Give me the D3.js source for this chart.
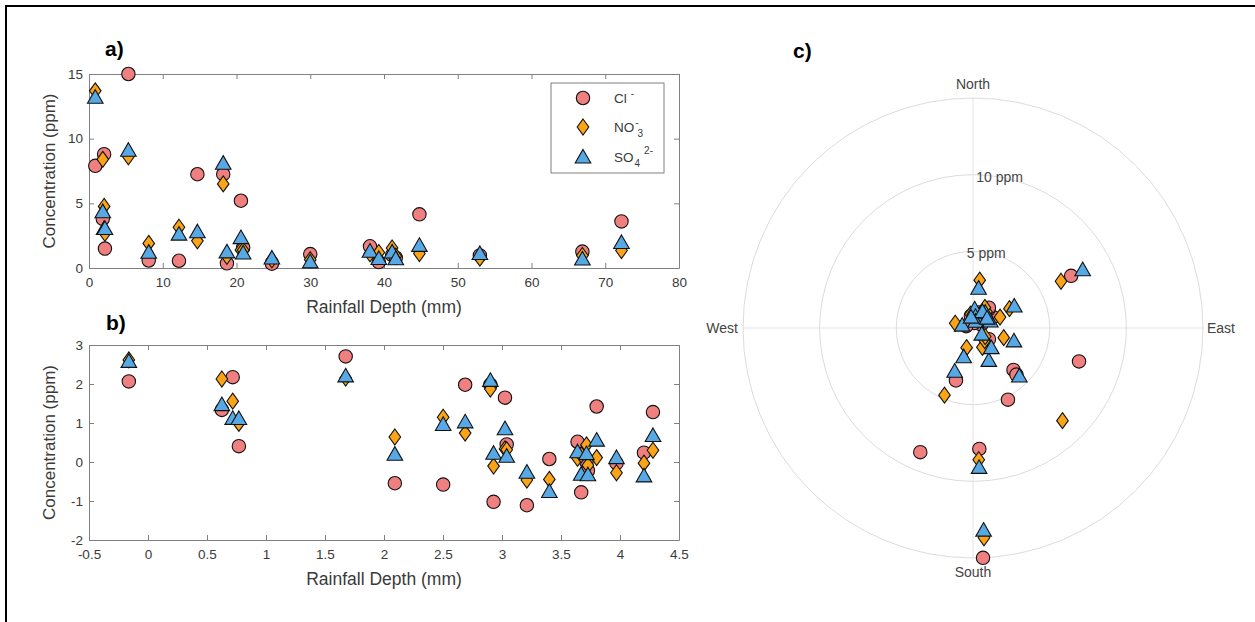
<!DOCTYPE html>
<html>
<head>
<meta charset="utf-8">
<script src="https://cdn.jsdelivr.net/npm/d3@7"></script>
<style>
body { margin: 0; background: #fff; }
svg { font-family: "Liberation Sans", Arial, sans-serif; }
</style>
</head>
<body>
<svg id="drawing_region"></svg>
<script>
// one entry per rainfall event
const rainfall = [0.85, 1.87, 2.05, 2.16, 5.34, 8.1, 12.2, 14.7, 18.2, 18.7, 20.6, 20.9, 24.8, 30.0, 38.1, 39.3, 41.1, 41.6, 44.8, 53.0, 66.9, 72.2];
const chloride = [7.9, 3.8, 8.8, 1.5, 15.0, 0.58, 0.56, 7.25, 7.25, 0.36, 5.2, 1.57, 0.33, 1.08, 1.68, 0.46, 1.0, 0.8, 4.15, 0.97, 1.27, 3.6];
const nitrate  = [13.7, 8.4, 4.76, 2.69, 8.6, 1.9, 3.15, 2.1, 6.5, 0.9, 1.4, 1.37, 0.63, 0.64, 1.1, 1.2, 1.55, 0.92, 1.12, 0.76, 0.97, 1.35];
const sulfate  = [13.2, 4.35, 3.06, 3.05, 9.1, 1.22, 2.62, 2.8, 8.1, 1.25, 2.35, 1.16, 0.77, 0.47, 1.3, 0.73, 1.24, 0.72, 1.75, 1.12, 0.70, 1.97];
const windDir  = [177, 136, 203, 62, 177.5, 68, 8, 107.5, 62, 5, 154, 40, 12, 20, 38, 285, 30, 350, 137, 55, 125, 198]; // degrees from north

const xTicksA = [0, 10, 20, 30, 40, 50, 60, 70, 80];
const yTicksA = [0, 5, 10, 15];
const xTicksB = [-0.5, 0, 0.5, 1, 1.5, 2, 2.5, 3, 3.5, 4, 4.5];
const yTicksB = [-2, -1, 0, 1, 2, 3];
const rings = [5, 10, 15];
const ringLabels = ['5 ppm', '10 ppm'];
const compass = ['North', 'East', 'South', 'West'];

const species = [
  { name: 'cl',  values: chloride },
  { name: 'no3', values: nitrate },
  { name: 'so4', values: sulfate }
];

const style = {
  cl:  { fill: '#f08080', shape: 'circle' },
  no3: { fill: '#fba418', shape: 'diamond' },
  so4: { fill: '#57a9e6', shape: 'triangle' }
};

const shapes = {
  circle:   { draw(ctx) { ctx.moveTo(6.7, 0); ctx.arc(0, 0, 6.7, 0, 2 * Math.PI); } },
  diamond:  { draw(ctx) { ctx.moveTo(0, -8); ctx.lineTo(5.8, 0); ctx.lineTo(0, 8); ctx.lineTo(-5.8, 0); ctx.closePath(); } },
  triangle: { draw(ctx) { ctx.moveTo(0, -7.6); ctx.lineTo(7.8, 6); ctx.lineTo(-7.8, 6); ctx.closePath(); } }
};

const svg = d3.select('#drawing_region')
    .attr('width', 1255)
    .attr('height', 622);

// figure frame (top and left edges)
svg.append('path')
    .attr('d', 'M6,622 L6,6 L1255,6')
    .attr('fill', 'none')
    .attr('stroke', '#000')
    .attr('stroke-width', 2);

function marker(sel, key) {
  sel.attr('d', d3.symbol().type(shapes[style[key].shape])())
      .attr('fill', style[key].fill)
      .attr('stroke', '#111')
      .attr('stroke-width', 1.1);
}

class ScatterPlot {
  constructor(config, data) {
    this.config = config;
    this.data = data;
    this.init();
  }
  init() {
    let self = this;
    let c = self.config;
    self.chart = svg.append('g')
        .attr('transform', `translate(${c.left}, ${c.top})`);
    self.inner_width = c.width;
    self.inner_height = c.height;
    self.xscale = d3.scaleLinear().domain(c.xdomain).range([0, self.inner_width]);
    self.yscale = d3.scaleLinear().domain(c.ydomain).range([self.inner_height, 0]);
  }
  update() {
    this.render();
  }
  render() {
    let self = this;
    let c = self.config;
    const fmt = d => String(d);

    const xb = self.chart.append('g')
        .attr('transform', `translate(0, ${self.inner_height})`)
        .call(d3.axisBottom(self.xscale).tickValues(c.xticks).tickFormat(fmt)
            .tickSizeInner(-5).tickSizeOuter(0).tickPadding(9.5));
    const xt = self.chart.append('g')
        .call(d3.axisTop(self.xscale).tickValues(c.xticks).tickFormat('')
            .tickSizeInner(-5).tickSizeOuter(0));
    const yl = self.chart.append('g')
        .call(d3.axisLeft(self.yscale).tickValues(c.yticks).tickFormat(fmt)
            .tickSizeInner(-5).tickSizeOuter(0).tickPadding(6));
    const yr = self.chart.append('g')
        .attr('transform', `translate(${self.inner_width}, 0)`)
        .call(d3.axisRight(self.yscale).tickValues(c.yticks).tickFormat('')
            .tickSizeInner(-5).tickSizeOuter(0));
    [xb, xt, yl, yr].forEach(g => {
      g.selectAll('path, line').attr('stroke', '#808080');
      g.selectAll('text').attr('fill', '#3a3a3a').style('font-size', '13.5px')
          .style('font-family', '"Liberation Sans", Arial, sans-serif');
    });

    species.forEach(s => {
      self.chart.append('g').selectAll('path')
          .data(self.data.filter(d => d.key === s.name))
          .join('path')
          .attr('transform', d => `translate(${self.xscale(d.x)}, ${self.yscale(d.y)})`)
          .call(marker, s.name);
    });

    self.chart.append('text')
        .attr('x', self.inner_width / 2)
        .attr('y', self.inner_height + 45)
        .attr('text-anchor', 'middle')
        .attr('fill', '#3a3a3a')
        .style('font-size', '17.5px')
        .text('Rainfall Depth (mm)');
    self.chart.append('text')
        .attr('transform', `translate(-34, ${self.inner_height / 2}) rotate(-90)`)
        .attr('text-anchor', 'middle')
        .attr('fill', '#3a3a3a')
        .style('font-size', '17px')
        .text('Concentration (ppm)');
    svg.append('text')
        .attr('x', c.tagX).attr('y', c.tagY)
        .attr('font-weight', 'bold')
        .style('font-size', '21px')
        .text(c.tag);
  }
}

const pointsA = [];
const pointsB = [];
species.forEach(s => {
  s.values.forEach((v, i) => {
    pointsA.push({ key: s.name, x: rainfall[i], y: v });
    // panel b is the same events on natural-log axes
    pointsB.push({ key: s.name, x: Math.log(rainfall[i]), y: Math.log(v) });
  });
});

const plotA = new ScatterPlot({
  left: 89, top: 74, width: 590, height: 194,
  xdomain: [0, 80], ydomain: [0, 15], xticks: xTicksA, yticks: yTicksA,
  tag: 'a)', tagX: 105, tagY: 56
}, pointsA);
plotA.update();

const plotB = new ScatterPlot({
  left: 89, top: 345, width: 590, height: 195,
  xdomain: [-0.5, 4.5], ydomain: [-2, 3], xticks: xTicksB, yticks: yTicksB,
  tag: 'b)', tagX: 106, tagY: 330
}, pointsB);
plotB.update();

// legend inside panel a
const legend = svg.append('g');
legend.append('rect')
    .attr('x', 551).attr('y', 83).attr('width', 113).attr('height', 90)
    .attr('fill', '#fff').attr('stroke', '#808080');
const legendY = [98, 127, 157];
species.forEach((s, i) => {
  legend.append('path')
      .attr('transform', `translate(583, ${legendY[i]})`)
      .call(marker, s.name);
});
const lt = legend.append('g').attr('fill', '#3a3a3a').style('font-size', '13.5px');
let t = lt.append('text').attr('x', 614).attr('y', legendY[0] + 5);
t.append('tspan').text('Cl');
t.append('tspan').attr('dx', 4).attr('dy', -6).style('font-size', '10px').text('-');
t = lt.append('text').attr('x', 614).attr('y', legendY[1] + 5);
t.append('tspan').text('NO');
t.append('tspan').attr('dx', 1).attr('dy', -6).style('font-size', '10px').text('-');
t.append('tspan').attr('x', 637.5).attr('dy', 11).style('font-size', '10px').text('3');
t = lt.append('text').attr('x', 614).attr('y', legendY[2] + 5);
t.append('tspan').text('SO');
t.append('tspan').attr('dx', 1).attr('dy', 5).style('font-size', '10px').text('4');
t.append('tspan').attr('dx', 4).attr('dy', -13).style('font-size', '10px').text('2-');

// panel c: polar plot of concentration against wind direction
class PolarPlot {
  constructor(config) {
    this.config = config;
    this.init();
  }
  init() {
    let self = this;
    self.chart = svg.append('g')
        .attr('transform', `translate(${self.config.cx}, ${self.config.cy})`);
    self.rscale = d3.scaleLinear().domain([0, 15]).range([0, self.config.radius]);
    self.angle = deg => deg * Math.PI / 180;
  }
  render() {
    let self = this;
    const R = self.config.radius;
    self.chart.append('g').selectAll('line')
        .data([0, 90])
        .join('line')
        .attr('x1', d => d3.pointRadial(self.angle(d), R)[0])
        .attr('y1', d => d3.pointRadial(self.angle(d), R)[1])
        .attr('x2', d => d3.pointRadial(self.angle(d + 180), R)[0])
        .attr('y2', d => d3.pointRadial(self.angle(d + 180), R)[1])
        .attr('stroke', '#e3e3e3');
    self.chart.append('g').selectAll('circle')
        .data(rings)
        .join('circle')
        .attr('r', d => self.rscale(d))
        .attr('fill', 'none')
        .attr('stroke', '#dcdcdc');
    self.chart.append('g').selectAll('text')
        .data(ringLabels)
        .join('text')
        .attr('x', (d, i) => d3.pointRadial(self.angle(10), self.rscale(rings[i]))[0])
        .attr('y', (d, i) => d3.pointRadial(self.angle(10), self.rscale(rings[i]))[1] + 5)
        .attr('text-anchor', 'middle')
        .attr('fill', '#444')
        .style('font-size', '14px')
        .text(d => d);

    const pos = [[0, -244, 'middle'], [234, 0, 'start'], [0, 244, 'middle'], [-235, 0, 'end']];
    self.chart.append('g').selectAll('text')
        .data(compass)
        .join('text')
        .attr('x', (d, i) => pos[i][0])
        .attr('y', (d, i) => pos[i][1] + 5)
        .attr('text-anchor', (d, i) => pos[i][2])
        .attr('fill', '#444')
        .style('font-size', '14px')
        .text(d => d);

    species.forEach(s => {
      self.chart.append('g').selectAll('path')
          .data(s.values.map((v, i) => ({ v: v, dir: windDir[i] })))
          .join('path')
          .attr('transform', d => {
            const p = d3.pointRadial(self.angle(d.dir), self.rscale(d.v));
            return `translate(${p[0]}, ${p[1]})`;
          })
          .call(marker, s.name);
    });

    svg.append('text')
        .attr('x', 793).attr('y', 58)
        .attr('font-weight', 'bold')
        .style('font-size', '21px')
        .text('c)');
  }
}

const polar = new PolarPlot({ cx: 973, cy: 328, radius: 230 });
polar.render();
</script>
</body>
</html>
